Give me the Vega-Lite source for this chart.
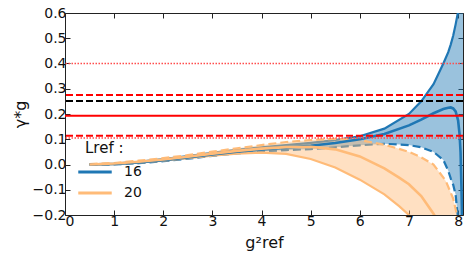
{
  "$schema": "https://vega.github.io/schema/vega-lite/v6.json",
  "width": 398,
  "height": 202,
  "autosize": {"type": "none"},
  "padding": {"left": 65, "top": 13, "right": 6, "bottom": 49},
  "config": {
    "view": {"stroke": null},
    "font": "DejaVu Sans",
    "axis": {
      "grid": false,
      "domainColor": "#222",
      "domainWidth": 1,
      "tickColor": "#222",
      "tickSize": -5,
      "labelFontSize": 14,
      "labelColor": "#111",
      "labelPadding": 4,
      "titleFontSize": 16,
      "titleFontWeight": "normal",
      "titleColor": "#111"
    },
    "legend": {
      "labelFontSize": 14,
      "titleFontSize": 15,
      "titleFontWeight": "normal",
      "labelColor": "#111",
      "titleColor": "#111"
    }
  },
  "resolve": {"axis": {"x": "independent", "y": "independent"}},
  "datasets": {
    "curves": [
      {"g": 0.5, "L": "16", "c": 0.000, "lo": -0.001, "hi": 0.001},
      {"g": 1.0, "L": "16", "c": 0.002, "lo": 0.000, "hi": 0.004},
      {"g": 1.5, "L": "16", "c": 0.008, "lo": 0.005, "hi": 0.011},
      {"g": 2.0, "L": "16", "c": 0.017, "lo": 0.013, "hi": 0.021},
      {"g": 2.5, "L": "16", "c": 0.028, "lo": 0.023, "hi": 0.033},
      {"g": 3.0, "L": "16", "c": 0.040, "lo": 0.034, "hi": 0.046},
      {"g": 3.5, "L": "16", "c": 0.051, "lo": 0.044, "hi": 0.058},
      {"g": 4.0, "L": "16", "c": 0.060, "lo": 0.052, "hi": 0.068},
      {"g": 4.5, "L": "16", "c": 0.067, "lo": 0.057, "hi": 0.077},
      {"g": 5.0, "L": "16", "c": 0.074, "lo": 0.061, "hi": 0.086},
      {"g": 5.5, "L": "16", "c": 0.085, "lo": 0.068, "hi": 0.097},
      {"g": 6.0, "L": "16", "c": 0.100, "lo": 0.076, "hi": 0.112},
      {"g": 6.5, "L": "16", "c": 0.121, "lo": 0.082, "hi": 0.142},
      {"g": 7.0, "L": "16", "c": 0.155, "lo": 0.077, "hi": 0.200},
      {"g": 7.25, "L": "16", "c": 0.178, "lo": 0.068, "hi": 0.250},
      {"g": 7.5, "L": "16", "c": 0.203, "lo": 0.050, "hi": 0.318},
      {"g": 7.7, "L": "16", "c": 0.220, "lo": 0.018, "hi": 0.400},
      {"g": 7.8, "L": "16", "c": 0.225, "lo": -0.025, "hi": 0.445},
      {"g": 7.85, "L": "16", "c": 0.226, "lo": -0.055, "hi": 0.475},
      {"g": 7.9, "L": "16", "c": 0.222, "lo": -0.080, "hi": 0.510},
      {"g": 7.95, "L": "16", "c": 0.210, "lo": -0.120, "hi": 0.555},
      {"g": 8.0, "L": "16", "c": 0.175, "lo": -0.220, "hi": 0.605},
      {"g": 8.03, "L": "16", "c": 0.120, "lo": -0.300, "hi": 0.650},
      {"g": 8.05, "L": "16", "c": 0.050, "lo": -0.400, "hi": 0.700},
      {"g": 8.07, "L": "16", "c": -0.100, "lo": -0.500, "hi": 0.780},
      {"g": 8.085, "L": "16", "c": -0.250, "lo": -0.600, "hi": 0.850},
      {"g": 8.1, "L": "16", "c": -0.400, "lo": -0.700, "hi": 0.900},
      {"g": 0.5, "L": "20", "c": 0.000, "lo": -0.001, "hi": 0.002},
      {"g": 1.0, "L": "20", "c": 0.004, "lo": 0.001, "hi": 0.006},
      {"g": 1.5, "L": "20", "c": 0.011, "lo": 0.007, "hi": 0.015},
      {"g": 2.0, "L": "20", "c": 0.020, "lo": 0.015, "hi": 0.025},
      {"g": 2.5, "L": "20", "c": 0.031, "lo": 0.025, "hi": 0.037},
      {"g": 3.0, "L": "20", "c": 0.043, "lo": 0.035, "hi": 0.051},
      {"g": 3.5, "L": "20", "c": 0.054, "lo": 0.043, "hi": 0.064},
      {"g": 4.0, "L": "20", "c": 0.063, "lo": 0.047, "hi": 0.077},
      {"g": 4.5, "L": "20", "c": 0.069, "lo": 0.042, "hi": 0.089},
      {"g": 5.0, "L": "20", "c": 0.070, "lo": 0.022, "hi": 0.097},
      {"g": 5.5, "L": "20", "c": 0.060, "lo": -0.012, "hi": 0.102},
      {"g": 6.0, "L": "20", "c": 0.032, "lo": -0.060, "hi": 0.097},
      {"g": 6.5, "L": "20", "c": -0.015, "lo": -0.118, "hi": 0.078},
      {"g": 6.8, "L": "20", "c": -0.052, "lo": -0.165, "hi": 0.062},
      {"g": 7.0, "L": "20", "c": -0.078, "lo": -0.200, "hi": 0.050},
      {"g": 7.25, "L": "20", "c": -0.125, "lo": -0.250, "hi": 0.028},
      {"g": 7.5, "L": "20", "c": -0.195, "lo": -0.320, "hi": 0.000},
      {"g": 7.75, "L": "20", "c": -0.280, "lo": -0.400, "hi": -0.065},
      {"g": 7.9, "L": "20", "c": -0.340, "lo": -0.450, "hi": -0.135},
      {"g": 8.0, "L": "20", "c": -0.380, "lo": -0.500, "hi": -0.220}
    ]
  },
  "layer": [
    {
      "data": {"name": "curves"},
      "transform": [{"filter": "datum.L == '16'"}],
      "mark": {"type": "area", "clip": true, "fill": "#1f77b4", "fillOpacity": 0.45},
      "encoding": {
        "x": {"field": "g", "type": "quantitative", "scale": {"domain": [0, 8.1], "nice": false, "zero": false},
              "axis": {"orient": "bottom", "values": [0,1,2,3,4,5,6,7,8], "format": "d", "title": "g²ref", "titlePadding": 6}},
        "y": {"field": "lo", "type": "quantitative", "scale": {"domain": [-0.2, 0.6], "nice": false, "zero": false},
              "axis": {"orient": "left", "values": [-0.2,-0.1,0,0.1,0.2,0.3,0.4,0.5,0.6], "format": ".1f", "title": "γ*g", "titlePadding": 4}},
        "y2": {"field": "hi"}
      }
    },
    {
      "data": {"name": "curves"},
      "transform": [{"filter": "datum.L == '16'"}],
      "mark": {"type": "line", "clip": true, "color": "#1f77b4", "strokeWidth": 2.2},
      "encoding": {"x": {"field": "g", "type": "quantitative", "axis": null}, "y": {"field": "hi", "type": "quantitative", "axis": null}}
    },
    {
      "data": {"name": "curves"},
      "transform": [{"filter": "datum.L == '16'"}],
      "mark": {"type": "line", "clip": true, "color": "#1f77b4", "strokeWidth": 2.2, "strokeDash": [8, 4]},
      "encoding": {"x": {"field": "g", "type": "quantitative", "axis": null}, "y": {"field": "lo", "type": "quantitative", "axis": null}}
    },
    {
      "data": {"name": "curves"},
      "transform": [{"filter": "datum.L == '20'"}],
      "mark": {"type": "area", "clip": true, "fill": "#ffbb78", "fillOpacity": 0.45},
      "encoding": {
        "x": {"field": "g", "type": "quantitative", "axis": null},
        "y": {"field": "lo", "type": "quantitative", "axis": null},
        "y2": {"field": "hi"}
      }
    },
    {
      "data": {"name": "curves"},
      "transform": [{"filter": "datum.L == '20'"}],
      "mark": {"type": "line", "clip": true, "color": "#ffbb78", "strokeWidth": 2.2, "strokeDash": [8, 4]},
      "encoding": {"x": {"field": "g", "type": "quantitative", "axis": null}, "y": {"field": "hi", "type": "quantitative", "axis": null}}
    },
    {
      "data": {"name": "curves"},
      "transform": [{"filter": "datum.L == '20'"}],
      "mark": {"type": "line", "clip": true, "color": "#ffbb78", "strokeWidth": 2.2},
      "encoding": {"x": {"field": "g", "type": "quantitative", "axis": null}, "y": {"field": "lo", "type": "quantitative", "axis": null}}
    },
    {
      "data": {"name": "curves"},
      "mark": {"type": "line", "clip": true, "strokeWidth": 2.6},
      "encoding": {
        "x": {"field": "g", "type": "quantitative", "axis": null},
        "y": {"field": "c", "type": "quantitative", "axis": null},
        "stroke": {"field": "L", "type": "nominal",
          "scale": {"domain": ["16", "20"], "range": ["#1f77b4", "#ffbb78"]},
          "legend": {"title": "Lref :", "orient": "none", "legendX": 20, "legendY": 128,
                     "symbolType": "M-2,0H2", "symbolSize": 280, "symbolStrokeWidth": 3.2,
                     "labelOffset": 19, "rowPadding": 4, "titlePadding": 6}}
      }
    },
    {
      "data": {"values": [{"y": 0.4}]},
      "mark": {"type": "rule", "color": "#ff4d4d", "strokeWidth": 1.3, "strokeDash": [1.5, 1.5]},
      "encoding": {"y": {"field": "y", "type": "quantitative", "axis": null}}
    },
    {
      "data": {"values": [{"y": 0.105}]},
      "mark": {"type": "rule", "color": "#ff4d4d", "strokeWidth": 1.3, "strokeDash": [1.5, 1.5]},
      "encoding": {"y": {"field": "y", "type": "quantitative", "axis": null}}
    },
    {
      "data": {"values": [{"y": 0.275}]},
      "mark": {"type": "rule", "color": "#ff0000", "strokeWidth": 2, "strokeDash": [7, 3]},
      "encoding": {"y": {"field": "y", "type": "quantitative", "axis": null}}
    },
    {
      "data": {"values": [{"y": 0.114}]},
      "mark": {"type": "rule", "color": "#ff0000", "strokeWidth": 2, "strokeDash": [7, 3]},
      "encoding": {"y": {"field": "y", "type": "quantitative", "axis": null}}
    },
    {
      "data": {"values": [{"y": 0.251}]},
      "mark": {"type": "rule", "color": "#000000", "strokeWidth": 2, "strokeDash": [7, 3]},
      "encoding": {"y": {"field": "y", "type": "quantitative", "axis": null}}
    },
    {
      "data": {"values": [{"y": 0.193}]},
      "mark": {"type": "rule", "color": "#ff0000", "strokeWidth": 2},
      "encoding": {"y": {"field": "y", "type": "quantitative", "axis": null}}
    },
    {
      "data": {"name": "curves"},
      "mark": {"type": "point", "opacity": 0},
      "encoding": {
        "x": {"field": "g", "type": "quantitative", "axis": {"orient": "top", "values": [0,1,2,3,4,5,6,7,8], "labels": false, "title": null}},
        "y": {"field": "c", "type": "quantitative", "axis": {"orient": "right", "values": [-0.2,-0.1,0,0.1,0.2,0.3,0.4,0.5,0.6], "labels": false, "title": null}}
      }
    }
  ]
}
